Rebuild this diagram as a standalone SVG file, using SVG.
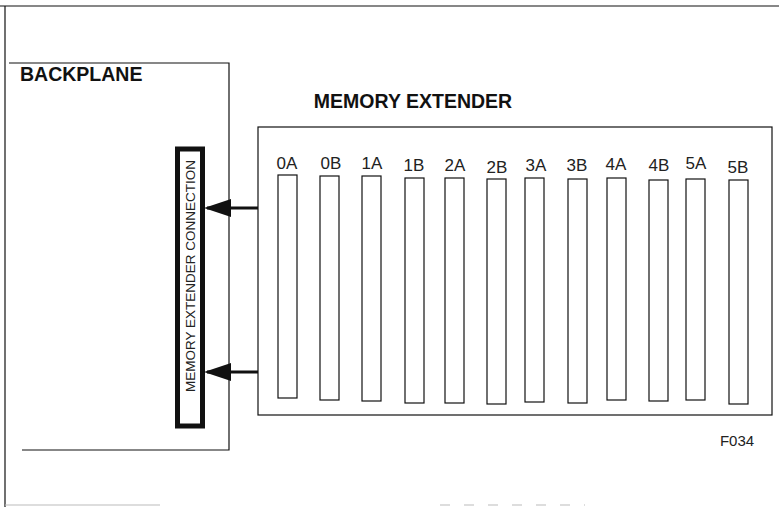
<svg xmlns="http://www.w3.org/2000/svg" width="779" height="507" viewBox="0 0 779 507">
<defs>
<style>
.frame{stroke:#111;stroke-width:1.2;fill:none}
.faint{stroke:#bbb;stroke-width:1;fill:none}
.box{stroke:#111;stroke-width:1.2;fill:none}
.slot{stroke:#111;stroke-width:1.2;fill:#fff}
.title{font-family:"Liberation Sans",Arial,sans-serif;font-weight:bold;font-size:19.5px;fill:#111}
.lbl{font-family:"Liberation Sans",Arial,sans-serif;font-size:17px;fill:#222}
.small{font-family:"Liberation Sans",Arial,sans-serif;font-size:13.5px;fill:#222}
.conn{stroke:#111;stroke-width:3;fill:none}
</style>
<marker id="ah" markerWidth="9" markerHeight="6" refX="8" refY="3" orient="auto" markerUnits="strokeWidth">
<path d="M0,0 L9,3 L0,6 Z" fill="#111"/>
</marker>
</defs>
<rect width="779" height="507" fill="#fff"/>
<g id="frame">
<line class="frame" x1="0" y1="6" x2="779" y2="6"/>
<line class="frame" x1="5" y1="6" x2="5" y2="507"/>
<line class="faint" x1="5" y1="505" x2="160" y2="505"/>
<line class="faint" x1="440" y1="505" x2="585" y2="505" stroke-dasharray="10 14"/>
</g>
<g id="backplane">
<polyline class="box" points="9,63 229,63 229,450 22,450"/>
<text class="title" x="20" y="81">BACKPLANE</text>
</g>
<g id="connection">
<rect x="177.5" y="149" width="25" height="277" fill="#fff" stroke="#111" stroke-width="5"/>
<text class="small" transform="translate(190,276) rotate(-90)" text-anchor="middle" dominant-baseline="central">MEMORY EXTENDER CONNECTION</text>
</g>
<g id="memory-extender">
<text class="title" x="413" y="108" text-anchor="middle">MEMORY EXTENDER</text>
<rect class="box" x="258" y="127" width="514" height="288"/>
<g id="slot-0A"><text class="lbl" x="287" y="169" text-anchor="middle">0A</text><rect class="slot" x="278" y="175" width="19" height="223"/></g>
<g id="slot-0B"><text class="lbl" x="331" y="169" text-anchor="middle">0B</text><rect class="slot" x="320" y="176" width="19" height="224"/></g>
<g id="slot-1A"><text class="lbl" x="372" y="169" text-anchor="middle">1A</text><rect class="slot" x="362" y="176" width="19" height="225"/></g>
<g id="slot-1B"><text class="lbl" x="414" y="171" text-anchor="middle">1B</text><rect class="slot" x="405" y="178" width="19" height="225"/></g>
<g id="slot-2A"><text class="lbl" x="455" y="171" text-anchor="middle">2A</text><rect class="slot" x="445" y="178" width="19" height="225"/></g>
<g id="slot-2B"><text class="lbl" x="497" y="173" text-anchor="middle">2B</text><rect class="slot" x="487" y="179" width="19" height="225"/></g>
<g id="slot-3A"><text class="lbl" x="536" y="171" text-anchor="middle">3A</text><rect class="slot" x="525" y="178" width="19" height="224"/></g>
<g id="slot-3B"><text class="lbl" x="577" y="171" text-anchor="middle">3B</text><rect class="slot" x="568" y="179" width="19" height="224"/></g>
<g id="slot-4A"><text class="lbl" x="616" y="170" text-anchor="middle">4A</text><rect class="slot" x="607" y="178" width="19" height="222"/></g>
<g id="slot-4B"><text class="lbl" x="659" y="171" text-anchor="middle">4B</text><rect class="slot" x="649" y="180" width="19" height="221"/></g>
<g id="slot-5A"><text class="lbl" x="696" y="169" text-anchor="middle">5A</text><rect class="slot" x="686" y="179" width="19" height="221"/></g>
<g id="slot-5B"><text class="lbl" x="738" y="173" text-anchor="middle">5B</text><rect class="slot" x="729" y="180" width="19" height="224"/></g>
</g>
<g id="connectors">
<line class="conn" x1="258" y1="208" x2="207" y2="208" marker-end="url(#ah)"/>
<line class="conn" x1="258" y1="372" x2="207" y2="372" marker-end="url(#ah)"/>
</g>
<text class="small" x="737" y="446" text-anchor="middle" style="font-size:15px">F034</text>
</svg>
